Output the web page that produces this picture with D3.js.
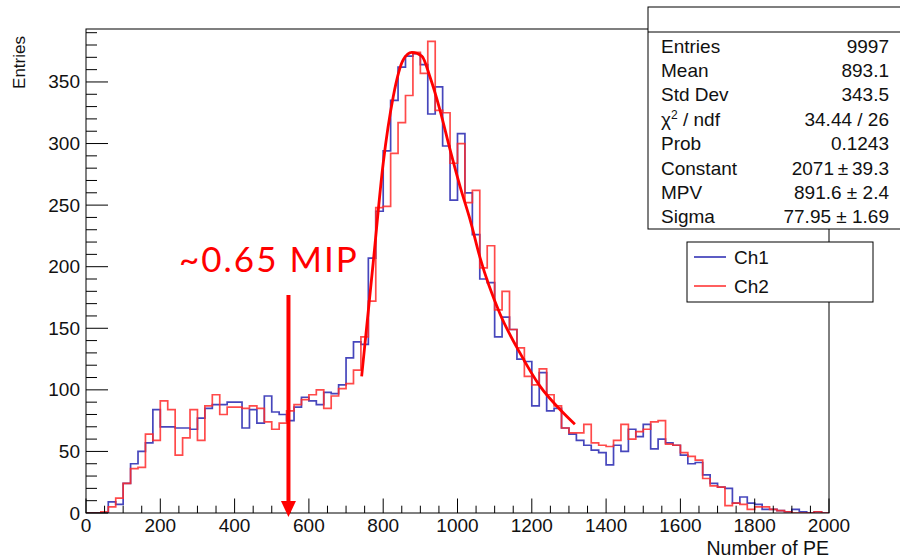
<!DOCTYPE html>
<html>
<head>
<meta charset="utf-8">
<script src="https://cdn.jsdelivr.net/npm/d3@7"></script>
<style>
body { margin: 0; background: #fff; }
svg { font-family: "Liberation Sans", Arial, sans-serif; }
</style>
</head>
<body>
<svg id="chart" width="900" height="558"></svg>
<script>
// histogram bins, 20 PE wide, 0..2000
var binWidth = 20
var ch1Counts = [
    0, 0, 0, 9, 7, 24, 40, 50, 57, 84,
    70, 70, 69, 69, 68, 77, 85, 88, 88, 90,
    90, 69, 84, 73, 95, 82, 80, 75, 86, 94,
    91, 88, 98, 97, 104, 126, 139, 137, 207, 245,
    294, 335, 362, 371, 373, 364, 324, 346, 298, 254,
    308, 260, 226, 190, 187, 143, 159, 149, 125, 123,
    87, 114, 83, 85, 69, 64, 59, 55, 51, 49,
    39, 55, 50, 68, 62, 72, 52, 60, 57, 55,
    47, 40, 41, 31, 24, 21, 20, 8, 13, 8,
    7, 3, 3, 2, 1, 3, 1, 0, 1, 0
]
var ch2Counts = [
    0, 0, 1, 5, 12, 24, 36, 37, 64, 59,
    91, 84, 47, 61, 84, 59, 87, 96, 80, 86,
    86, 85, 87, 85, 74, 68, 73, 83, 88, 92,
    96, 100, 85, 95, 101, 105, 116, 143, 172, 248,
    249, 292, 317, 339, 374, 357, 383, 327, 325, 284,
    300, 252, 262, 199, 217, 165, 180, 149, 134, 111,
    104, 117, 96, 87, 69, 65, 65, 72, 57, 55,
    54, 59, 72, 60, 66, 68, 74, 75, 56, 55,
    49, 46, 43, 28, 22, 21, 6, 8, 7, 3,
    5, 5, 3, 2, 1, 0, 0, 0, 1, 0
]

// Landau fit curve
var fitPE = [742, 773, 800, 827, 854, 877, 904, 926, 953, 980, 1007, 1034, 1061, 1114, 1168, 1222, 1276, 1316]
var fitValues = [111, 203, 284, 338, 368, 374, 371, 354, 327, 295, 265, 238, 207, 162, 130, 103, 84, 72]

var xTicks = d3.range(0, 2001, 200)
var xMinorTicks = d3.range(0, 2001, 50)
var yTicks = d3.range(0, 351, 50)
var yMinorTicks = d3.range(0, 391, 10)

var statLabels = ['Entries', 'Mean', 'Std Dev', 'chi', 'Prob', 'Constant', 'MPV', 'Sigma']
var statValues = ['9997', '893.1', '343.5', '34.44 / 26', '0.1243', '2071\u2009\u00b1\u200939.3', '891.6 \u00b1 2.4', '77.95 \u00b1 1.69']

var legendLabels = ['Ch1', 'Ch2']
var seriesColors = ['#2626b0', '#ff2a2a']

var markerText = '~0.65 MIP'
var markerPE = 545
var markerTop = 177

var svg = d3.select('#chart')
var frame = {left: 86, right: 829, top: 29, bottom: 513}

var x = d3.scaleLinear().domain([0, 2000]).range([frame.left, frame.right])
var y = d3.scaleLinear().domain([0, 393]).range([frame.bottom, frame.top])

svg.append('defs').append('clipPath').attr('id', 'frameClip')
    .append('rect')
    .attr('x', frame.left).attr('y', frame.top)
    .attr('width', frame.right - frame.left)
    .attr('height', frame.bottom - frame.top)

function histPoints(counts) {
    var pts = [[0, 0]]
    counts.forEach(function(c, i) { pts.push([i * binWidth, c]) })
    pts.push([counts.length * binWidth, counts[counts.length - 1]])
    pts.push([counts.length * binWidth, 0])
    return pts
}

var stepLine = d3.line()
    .x(function(d) { return x(d[0]) })
    .y(function(d) { return y(d[1]) })
    .curve(d3.curveStepAfter)

var plot = svg.append('g').attr('clip-path', 'url(#frameClip)')

;[ch1Counts, ch2Counts].forEach(function(counts, i) {
    plot.append('path')
        .attr('d', stepLine(histPoints(counts)))
        .attr('fill', 'none')
        .attr('stroke', seriesColors[i])
        .attr('stroke-opacity', 0.85)
        .attr('stroke-width', 1.7)
})

var fitLine = d3.line()
    .x(function(d, i) { return x(fitPE[i]) })
    .y(function(d) { return y(d) })
    .curve(d3.curveMonotoneX)

plot.append('path')
    .attr('d', fitLine(fitValues))
    .attr('fill', 'none')
    .attr('stroke', '#ff0000')
    .attr('stroke-width', 2.8)

// frame
svg.append('rect')
    .attr('x', frame.left).attr('y', frame.top)
    .attr('width', frame.right - frame.left)
    .attr('height', frame.bottom - frame.top)
    .attr('fill', 'none')
    .attr('stroke', '#000')
    .attr('stroke-width', 1)

var axes = svg.append('g').attr('stroke', '#000').attr('stroke-width', 1)

axes.selectAll('.ytick')
    .data(yMinorTicks)
    .enter().append('line')
    .attr('x1', frame.left)
    .attr('x2', function(d) { return frame.left + (d % 50 === 0 ? 22 : 11) })
    .attr('y1', function(d) { return y(d) })
    .attr('y2', function(d) { return y(d) })

axes.selectAll('.xtick')
    .data(xMinorTicks)
    .enter().append('line')
    .attr('x1', function(d) { return x(d) })
    .attr('x2', function(d) { return x(d) })
    .attr('y1', frame.bottom)
    .attr('y2', function(d) { return frame.bottom - (d % 200 === 0 ? 14.5 : 7.3) })

svg.append('g').selectAll('text')
    .data(yTicks)
    .enter().append('text')
    .attr('x', frame.left - 6)
    .attr('y', function(d) { return y(d) + 6.5 })
    .attr('text-anchor', 'end')
    .attr('font-size', 19)
    .attr('fill', '#111')
    .text(function(d) { return d })

svg.append('g').selectAll('text')
    .data(xTicks)
    .enter().append('text')
    .attr('x', function(d) { return x(d) })
    .attr('y', frame.bottom + 19)
    .attr('text-anchor', 'middle')
    .attr('font-size', 19)
    .attr('fill', '#111')
    .text(function(d) { return d })

svg.append('text')
    .attr('transform', 'translate(25,36) rotate(-90)')
    .attr('text-anchor', 'end')
    .attr('font-size', 17)
    .attr('fill', '#111')
    .text('Entries')

svg.append('text')
    .attr('x', frame.right)
    .attr('y', 555)
    .attr('text-anchor', 'end')
    .attr('font-size', 19.5)
    .attr('fill', '#111')
    .text('Number of PE')

// marker annotation
svg.append('text')
    .attr('x', 179)
    .attr('y', 272)
    .attr('font-family', 'Lato, "Open Sans", sans-serif')
    .attr('font-size', 35)
    .attr('letter-spacing', 2)
    .attr('fill', '#ff0000')
    .text(markerText)

svg.append('line')
    .attr('x1', x(markerPE)).attr('x2', x(markerPE))
    .attr('y1', y(markerTop)).attr('y2', frame.bottom - 10)
    .attr('stroke', '#ff0000')
    .attr('stroke-width', 4)

svg.append('path')
    .attr('d', d3.line()([
        [x(markerPE) - 7.5, frame.bottom - 12],
        [x(markerPE) + 7.5, frame.bottom - 12],
        [x(markerPE), frame.bottom + 4]
    ]) + 'Z')
    .attr('fill', '#ff0000')

// stats box
var stats = svg.append('g')
stats.append('rect')
    .attr('x', 648).attr('y', 7)
    .attr('width', 270).attr('height', 222)
    .attr('fill', '#fff')
    .attr('stroke', '#000')
stats.append('line')
    .attr('x1', 648).attr('x2', 900)
    .attr('y1', 32).attr('y2', 32)
    .attr('stroke', '#000')

statLabels.forEach(function(label, i) {
    var t = stats.append('text')
        .attr('x', 661)
        .attr('y', 52.5 + 24.4 * i)
        .attr('font-size', 19)
        .attr('fill', '#111')
    if (label === 'chi') {
        t.append('tspan').text('\u03c7')
        t.append('tspan').attr('font-size', 12).attr('dy', -7).text('2')
        t.append('tspan').attr('dy', 7).text(' / ndf')
    } else {
        t.text(label)
    }
    stats.append('text')
        .attr('x', 889)
        .attr('y', 52.5 + 24.4 * i)
        .attr('text-anchor', 'end')
        .attr('font-size', 19)
        .attr('fill', '#111')
        .text(statValues[i])
})

// legend
var legend = svg.append('g')
legend.append('rect')
    .attr('x', 687).attr('y', 242)
    .attr('width', 186).attr('height', 60)
    .attr('fill', '#fff')
    .attr('stroke', '#000')

legendLabels.forEach(function(label, i) {
    var ly = 257 + 29 * i
    legend.append('line')
        .attr('x1', 694).attr('x2', 726)
        .attr('y1', ly).attr('y2', ly)
        .attr('stroke', seriesColors[i])
        .attr('stroke-width', 1.5)
    legend.append('text')
        .attr('x', 734)
        .attr('y', ly + 7)
        .attr('font-size', 19)
        .attr('fill', '#111')
        .text(label)
})
</script>
</body>
</html>
